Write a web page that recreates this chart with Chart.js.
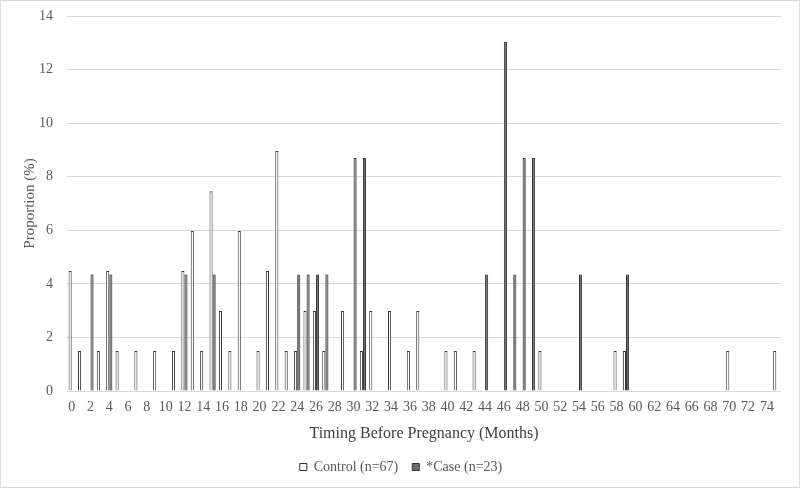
<!DOCTYPE html>
<html>
<head>
<meta charset="utf-8">
<script src="https://cdn.jsdelivr.net/npm/chart.js@4"></script>
<style>
  body { margin: 0; background: #fff; }
  #wrap { width: 800px; height: 488px; }
</style>
</head>
<body>
<div id="wrap"><canvas id="timingChart" width="800" height="488"></canvas></div>
<script>
// mois avant la grossesse (0 à 75)
const months = [0, 1, 2, 3, 4, 5, 6, 7, 8, 9, 10, 11, 12, 13, 14, 15, 16, 17, 18, 19,
    20, 21, 22, 23, 24, 25, 26, 27, 28, 29, 30, 31, 32, 33, 34, 35, 36, 37, 38, 39,
    40, 41, 42, 43, 44, 45, 46, 47, 48, 49, 50, 51, 52, 53, 54, 55, 56, 57, 58, 59,
    60, 61, 62, 63, 64, 65, 66, 67, 68, 69, 70, 71, 72, 73, 74, 75];

// Control (n=67), en %
const controlValues = [4.48, 1.49, null, 1.49, 4.48, 1.49, null, 1.49, null, 1.49,
    null, 1.49, 4.48, 5.97, 1.49, 7.46, 2.99, 1.49, 5.97, null,
    1.49, 4.48, 8.96, 1.49, 1.49, 2.99, 2.99, 1.49, null, 2.99,
    null, 1.49, 2.99, null, 2.99, null, 1.49, 2.99, null, null,
    1.49, 1.49, null, 1.49, null, null, null, null, null, null,
    1.49, null, null, null, null, null, null, null, 1.49, 1.49,
    null, null, null, null, null, null, null, null, null, null,
    1.49, null, null, null, null, 1.49];

// *Case (n=23), en %
const caseValues = [null, null, 4.35, null, 4.35, null, null, null, null, null,
    null, null, 4.35, null, null, 4.35, null, null, null, null,
    null, null, null, null, 4.35, 4.35, 4.35, 4.35, null, null,
    8.70, 8.70, null, null, null, null, null, null, null, null,
    null, null, null, null, 4.35, null, 13.04, 4.35, 8.70, 8.70,
    null, null, null, null, 4.35, null, null, null, null, 4.35,
    null, null, null, null, null, null, null, null, null, null,
    null, null, null, null, null, null];

const yTicks = [0, 2, 4, 6, 8, 10, 12, 14];

const serif = 'Liberation Serif';
const textColor = '#595959';

// fond blanc + cadre gris autour de l'image
const framePlugin = {
    id: 'frame',
    beforeDraw(chart) {
        const c = chart.ctx;
        c.save();
        c.fillStyle = '#fff';
        c.fillRect(0, 0, chart.width, chart.height);
        c.strokeStyle = '#d9d9d9';
        c.lineWidth = 1;
        c.strokeRect(0.5, 0.5, chart.width - 1, chart.height - 1);
        c.restore();
    }
};

const ctx = document.getElementById('timingChart').getContext('2d');
const timingChart = new Chart(ctx, {
    type: 'bar',
    data: {
        labels: months,
        datasets: [{
            label: 'Control (n=67)',
            data: controlValues,
            backgroundColor: '#ffffff',
            borderColor: '#333333',
            borderWidth: 1
        }, {
            label: '*Case (n=23)',
            data: caseValues,
            backgroundColor: '#6f6f6f',
            borderColor: '#333333',
            borderWidth: 1
        }]
    },
    options: {
        responsive: false,
        animation: false,
        layout: { padding: { left: 21, right: 19, top: 1, bottom: 4 } },
        datasets: {
            bar: { categoryPercentage: 0.66, barPercentage: 1.0 }
        },
        plugins: {
            legend: {
                position: 'bottom',
                labels: {
                    boxWidth: 7,
                    boxHeight: 7,
                    padding: 14,
                    color: textColor,
                    font: { family: serif, size: 14 }
                }
            },
            tooltip: { enabled: false }
        },
        scales: {
            x: {
                grid: { display: false, drawTicks: false },
                border: { display: false },
                ticks: {
                    autoSkip: false,
                    maxRotation: 0,
                    padding: 8,
                    color: textColor,
                    font: { family: serif, size: 14 },
                    callback: function (value, index) {
                        return index % 2 === 0 ? months[index] : '';
                    }
                },
                title: {
                    display: true,
                    text: 'Timing Before Pregnancy (Months)',
                    color: '#404040',
                    font: { family: serif, size: 16 },
                    padding: { top: 0, bottom: 3 }
                }
            },
            y: {
                min: 0,
                max: 14,
                afterBuildTicks: function (axis) {
                    axis.ticks = yTicks.map(v => ({ value: v }));
                },
                afterFit: function (axis) {
                    axis.width = 46;
                    axis.paddingTop = 16;
                },
                grid: { color: '#d9d9d9', drawTicks: false },
                border: { display: false },
                ticks: {
                    padding: 14,
                    color: textColor,
                    font: { family: serif, size: 14 }
                },
                title: {
                    display: true,
                    text: 'Proportion (%)',
                    color: textColor,
                    font: { family: serif, size: 15 },
                    padding: { top: 0, bottom: 0 }
                }
            }
        }
    },
    plugins: [framePlugin]
});
</script>
</body>
</html>
